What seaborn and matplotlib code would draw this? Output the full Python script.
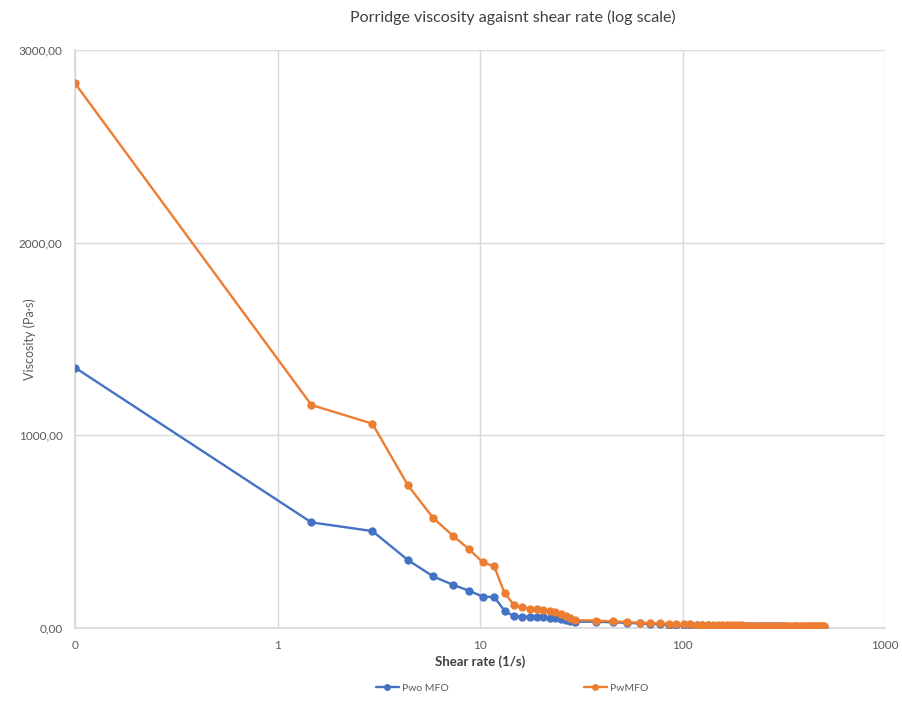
import matplotlib
matplotlib.use("Agg")
import matplotlib.pyplot as plt
import seaborn as sns
import pandas as pd
from matplotlib.ticker import FixedLocator, FixedFormatter, NullLocator

# Shear rate (1/s); the first reading is shown at the left edge of the log axis
shear_rate = [
    0.1, 1.47, 2.94, 4.41, 5.88, 7.35, 8.82, 10.29, 11.76, 13.23, 14.7,
    16.17, 17.64, 19.11, 20.58, 22.05, 23.52, 24.99, 26.46, 27.93, 29.4,
    37.4, 45.4, 53.4, 61.4, 69.4, 77.4, 85.4, 93.4, 101.4, 109.4,
    117.4, 125.4, 133.4, 141.4, 149.4, 157.4, 165.4, 173.4, 181.4, 189.4,
    197.4, 205.4, 213.4, 221.4, 229.4, 237.4, 245.4, 253.4, 261.4, 269.4,
    277.4, 285.4, 293.4, 301.4, 309.4, 317.4, 325.4, 333.4, 341.4, 349.4,
    357.4, 365.4, 373.4, 381.4, 389.4, 397.4, 405.4, 413.4, 421.4, 429.4,
    437.4, 445.4, 453.4, 461.4, 469.4, 477.4, 485.4, 493.4, 501.4,
]

# Viscosity (Pa·s) without MFO
visc_pwo_mfo = [
    1350, 546, 501, 350, 265, 222, 191, 161, 158, 87, 58,
    57, 55, 53, 52, 50, 47, 43, 38, 34, 30,
    30, 27, 24, 21, 19, 17, 15, 14, 13, 12,
    11.5, 11, 10.5, 10, 9.6, 9.2, 8.8, 8.5, 8.2, 7.9,
    7.6, 7.4, 7.2, 7.0, 6.8, 6.6, 6.4, 6.2, 6.0, 5.9,
    5.8, 5.6, 5.5, 5.4, 5.3, 5.2, 5.1, 5.0, 4.9, 4.8,
    4.7, 4.6, 4.5, 4.5, 4.4, 4.3, 4.2, 4.2, 4.1, 4.0,
    4.0, 3.9, 3.8, 3.8, 3.7, 3.7, 3.6, 3.6, 3.5,
]

# Viscosity (Pa·s) with MFO
visc_pw_mfo = [
    2827, 1156, 1059, 738, 568, 477, 407, 340, 317, 178, 118,
    106, 97, 94, 90, 86, 80, 71, 61, 50, 38,
    36, 32, 28, 25, 23, 21, 19, 18, 17, 16,
    15, 14.5, 14, 13.5, 13, 12.5, 12, 11.6, 11.2, 10.9,
    10.6, 10.3, 10, 9.8, 9.6, 9.4, 9.2, 9.0, 8.8, 8.6,
    8.5, 8.3, 8.2, 8.0, 7.9, 7.8, 7.7, 7.5, 7.4, 7.3,
    7.2, 7.1, 7.0, 6.9, 6.8, 6.7, 6.6, 6.5, 6.5, 6.4,
    6.3, 6.2, 6.2, 6.1, 6.0, 6.0, 5.9, 5.8, 5.8,
]

series_names = ["Pwo MFO", "PwMFO"]
series_colors = ["#4472C4", "#ED7D31"]

x_ticks = [0.1, 1, 10, 100, 1000]
x_tick_labels = ["0", "1", "10", "100", "1000"]
y_ticks = [0, 1000, 2000, 3000]
y_tick_labels = ["0,00", "1000,00", "2000,00", "3000,00"]

df = pd.concat([
    pd.DataFrame({"shear": shear_rate, "visc": visc_pwo_mfo, "sample": series_names[0]}),
    pd.DataFrame({"shear": shear_rate, "visc": visc_pw_mfo, "sample": series_names[1]}),
])

sns.set_theme(style="white")
plt.rcParams["font.family"] = ["Lato", "DejaVu Sans"]

fig = plt.figure(figsize=(9.02, 7.02), dpi=100)
ax = fig.add_axes([75 / 902, 1 - 627.5 / 702, (885 - 75) / 902, (627.5 - 50) / 702])

sns.lineplot(
    data=df, x="shear", y="visc", hue="sample", hue_order=series_names,
    palette=series_colors, marker="o", markersize=6, markeredgewidth=0,
    linewidth=1.7, sort=False, ax=ax, legend=False, zorder=3,
)

ax.set_xscale("log")
ax.set_xlim(0.1, 1000)
ax.set_ylim(0, 3000)
ax.xaxis.set_major_locator(FixedLocator(x_ticks))
ax.xaxis.set_major_formatter(FixedFormatter(x_tick_labels))
ax.xaxis.set_minor_locator(NullLocator())
ax.yaxis.set_major_locator(FixedLocator(y_ticks))
ax.yaxis.set_major_formatter(FixedFormatter(y_tick_labels))

grid_c = "#d9d9d9"
ax.grid(True, which="major", color=grid_c, linewidth=1.0, zorder=0)
for side in ["top", "right"]:
    ax.spines[side].set_visible(False)
ax.spines["left"].set_color(grid_c)
ax.spines["bottom"].set_color(grid_c)
ax.tick_params(axis="both", length=0, labelsize=8.5, labelcolor="#595959")
ax.tick_params(axis="x", pad=9)
ax.tick_params(axis="y", pad=9)

ax.set_xlabel("Shear rate (1/s)", fontsize=9.5, color="#404040", fontweight="bold")
ax.xaxis.set_label_coords(0.5, -(662 - 627.5) / 577.5)
ax.set_ylabel("Viscosity (Pa·s)", fontsize=9, color="#595959")
ax.yaxis.set_label_coords(-(75 - 30) / 810, 0.5)
ax.xaxis.label.set_va("center")
ax.yaxis.label.set_va("center")

fig.text(513 / 902, 1 - 17 / 702, "Porridge viscosity agaisnt shear rate (log scale)",
         ha="center", va="center", fontsize=11.5, color="#404040")

handles = [
    plt.Line2D([], [], color=c, marker="o", markersize=5, markeredgewidth=0, linewidth=1.7)
    for c in series_colors
]
fig.legend(handles, series_names, loc="center", bbox_to_anchor=(512 / 902, 1 - 688 / 702),
           ncol=2, frameon=False, fontsize=7.5, handlelength=2.2, handletextpad=0.3,
           columnspacing=13, labelcolor="#595959")

fig.savefig("out.png", dpi=100, facecolor="white")
